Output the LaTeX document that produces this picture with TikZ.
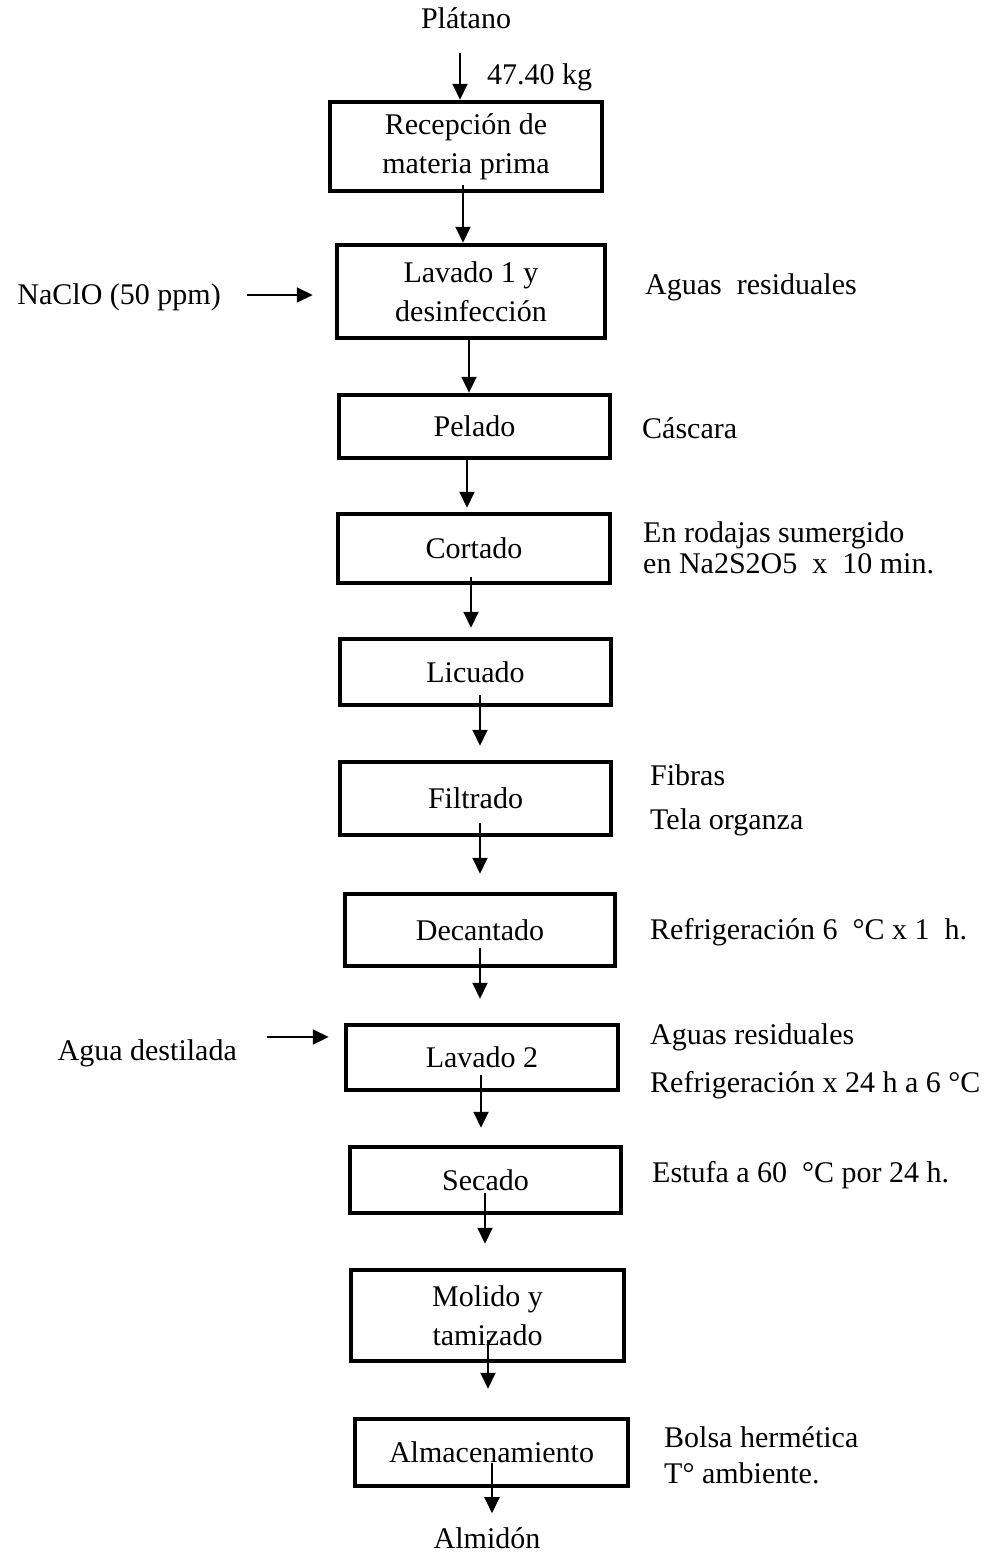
\documentclass[tikz,border=0pt]{standalone}
\usepackage{fontspec}
\setmainfont{Liberation Serif}
\usetikzlibrary{arrows.meta}

\begin{document}
\begin{tikzpicture}[x=1pt,y=-1pt,
    caja/.style={draw,line width=4.5pt,align=center,inner sep=0pt,font=\fontsize{30}{39}\selectfont},
    nota/.style={inner sep=0pt,align=left,font=\fontsize{30}{36}\selectfont},
    flecha/.style={line width=2pt,-{Triangle[length=16pt,width=15pt]}}]
    \useasboundingbox (0,0) rectangle (988,1556);

    \node[nota] (plat) at (466,18) {Plátano};
    \node[nota,anchor=west] (kg) at (487,77) {47.40 kg};
    \node[caja,minimum width=272pt,minimum height=89pt] (rec) at (466,146.5) {Recepción de\\materia prima};
    \node[caja,minimum width=268pt,minimum height=93pt] (lav1) at (471,291.5) {Lavado 1 y\\desinfección};
    \node[caja,minimum width=271pt,minimum height=63pt] (pel) at (474.5,426.5) {Pelado};
    \node[caja,minimum width=272pt,minimum height=69pt] (cor) at (474,548.5) {Cortado};
    \node[caja,minimum width=271pt,minimum height=66pt] (lic) at (475.5,672) {Licuado};
    \node[caja,minimum width=271pt,minimum height=73pt] (fil) at (475.5,798.5) {Filtrado};
    \node[caja,minimum width=270pt,minimum height=72pt] (dec) at (480,930) {Decantado};
    \node[caja,minimum width=272pt,minimum height=65pt] (lav2) at (482,1057.5) {Lavado 2};
    \node[caja,minimum width=271pt,minimum height=66pt] (sec) at (485.5,1180) {Secado};
    \node[caja,minimum width=273pt,minimum height=91pt] (mol) at (487.5,1315.5) {Molido y\\tamizado};
    \node[caja,minimum width=273pt,minimum height=67pt] (alm) at (491.5,1452.5) {Almacenamiento};
    \node[nota] (almi) at (487,1538) {Almidón};

    \node[nota,anchor=east] (naclo) at (221,297) {NaClO (50 ppm)};
    \node[nota,anchor=east] (agua) at (237,1053) {Agua destilada};

    \node[nota,anchor=west] (res1) at (645,287) {Aguas\ \ residuales};
    \node[nota,anchor=west] (casc) at (642,428) {Cáscara};
    \node[nota,anchor=west,font=\fontsize{30}{31}\selectfont] (rod) at (643,547.5) {En rodajas sumergido\\en Na2S2O5\ \ x\ \ 10 min.};
    \node[nota,anchor=west] (fib) at (650,775) {Fibras};
    \node[nota,anchor=west] (tela) at (650,822) {Tela organza};
    \node[nota,anchor=west] (ref1) at (650,932) {Refrigeración 6\ \ °C x 1\ \ h.};
    \node[nota,anchor=west] (res2) at (650,1037) {Aguas residuales};
    \node[nota,anchor=west] (ref2) at (650,1085) {Refrigeración x 24 h a 6 °C};
    \node[nota,anchor=west] (est) at (652,1175) {Estufa a 60\ \ °C por 24 h.};
    \node[nota,anchor=west] (bol) at (664,1455) {Bolsa hermética\\T° ambiente.};

    \coordinate (a1) at (460,53);
    \coordinate (a2) at (463,185);
    \coordinate (a3) at (469,338);
    \coordinate (a4) at (467,456);
    \coordinate (a5) at (471,577);
    \coordinate (a6) at (480,695);
    \coordinate (a7) at (480,823);
    \coordinate (a8) at (480,948);
    \coordinate (a9) at (481,1075);
    \coordinate (a10) at (485,1193);
    \coordinate (a11) at (488,1340);
    \coordinate (a12) at (492,1463);
    \coordinate (n1) at (247,295);
    \coordinate (d1) at (267,1037);

    \draw[flecha] (a1) -- (a1 |- rec.north);
    \draw[flecha] (a2) -- (a2 |- lav1.north);
    \draw[flecha] (a3) -- (a3 |- pel.north);
    \draw[flecha,shorten >=4pt] (a4) -- (a4 |- cor.north);
    \draw[flecha,shorten >=9pt] (a5) -- (a5 |- lic.north);
    \draw[flecha,shorten >=14pt] (a6) -- (a6 |- fil.north);
    \draw[flecha,shorten >=18pt] (a7) -- (a7 |- dec.north);
    \draw[flecha,shorten >=24pt] (a8) -- (a8 |- lav2.north);
    \draw[flecha,shorten >=17pt] (a9) -- (a9 |- sec.north);
    \draw[flecha,shorten >=24pt] (a10) -- (a10 |- mol.north);
    \draw[flecha,shorten >=28pt] (a11) -- (a11 |- alm.north);
    \draw[flecha,shorten >=14pt] (a12) -- (a12 |- almi.north);
    \draw[flecha,shorten >=22pt] (n1) -- (n1 -| lav1.west);
    \draw[flecha,shorten >=15pt] (d1) -- (d1 -| lav2.west);
\end{tikzpicture}
\end{document}
